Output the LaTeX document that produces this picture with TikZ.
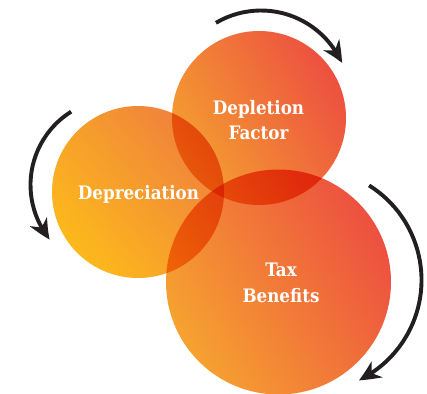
\documentclass[tikz,border=0pt]{standalone}
\usepackage{fontspec}
\setmainfont{DejaVu Serif Condensed}
\usetikzlibrary{arrows.meta,bending}
\definecolor{depA}{RGB}{253,185,27}
\definecolor{depB}{RGB}{239,128,62}
\definecolor{dflA}{RGB}{244,160,48}
\definecolor{dflB}{RGB}{237,80,64}
\definecolor{taxA}{RGB}{246,162,48}
\definecolor{taxB}{RGB}{237,80,64}
\definecolor{arrowink}{RGB}{35,31,32}
\begin{document}
\begin{tikzpicture}[x=1pt,y=-1pt,
  circ/.style={circle, inner sep=0pt, draw=none, minimum size=#1},
  lbl/.style={text=white, font=\bfseries\fontsize{18.6}{25.5}\selectfont, align=center, inner sep=0pt},
  cyc/.style={draw=arrowink, line width=3.9pt, -{Stealth[length=21pt,width=19pt,inset=6.5pt,bend]}}]
\fill[white] (0,0) rectangle (427,393);
\useasboundingbox (0,0) rectangle (427,393);
\begin{scope}[blend mode=multiply]
\node[circ=172, bottom color=depA, top color=depB, shading angle=-50] (dep) at (138,192) {};
\node[circ=174, bottom color=dflA, top color=dflB, shading angle=-60] (dfl) at (259,118) {};
\node[circ=225, bottom color=taxA, top color=taxB, shading angle=-60] (tax) at (278.5,282) {};
\end{scope}
\node[lbl, anchor=base] (tdep) at (138.5,199.5) {Depreciation};
\node[lbl] (tdfl) at (258.5,120) {Depletion\\Factor};
\node[lbl] (ttax) at (281,283) {Tax\\Benefits};
\coordinate (c1) at (261,99);
\coordinate (c2) at (117,185);
\coordinate (c3) at (310,280);
\draw[cyc] ([shift={(-120.6:88.5)}]c1) arc[start angle=-120.6, end angle=-24, radius=88.5];
\draw[cyc] ([shift={(-122:86.5)}]c2) arc[start angle=-122, end angle=-219, radius=86.5];
\draw[cyc] ([shift={(-58:111.5)}]c3) arc[start angle=-58, end angle=64, radius=111.5];
\end{tikzpicture}
\end{document}
